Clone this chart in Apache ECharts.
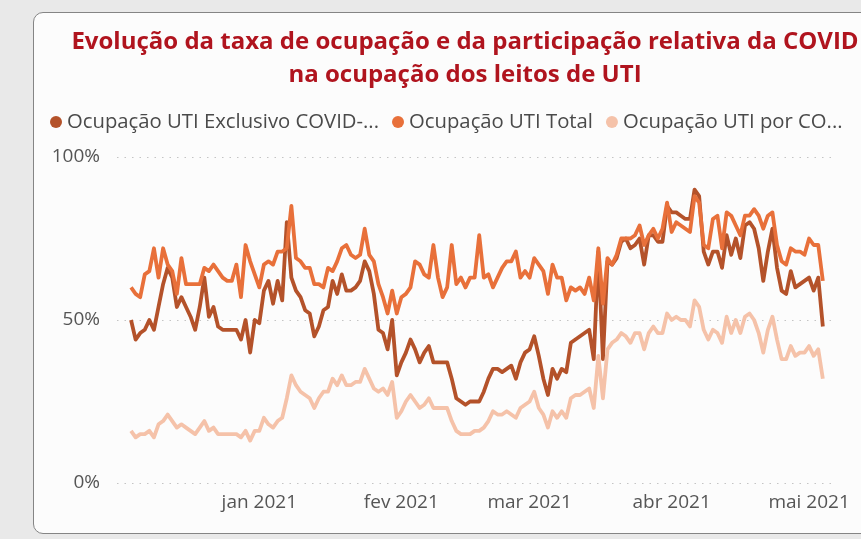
<!DOCTYPE html>
<html>
<head>
<meta charset="utf-8">
<script src="https://cdn.jsdelivr.net/npm/echarts@6/dist/echarts.min.js"></script>
<style>
  html, body { margin: 0; padding: 0; width: 861px; height: 539px; overflow: hidden; }
  body { background: #e9e9e9; position: relative; font-family: 'Open Sans', sans-serif; }
  .card {
    position: absolute; left: 33px; top: 12px; width: 880px; height: 520px;
    background: #fcfcfc; border: 1.5px solid #858585; border-radius: 10px;
  }
  #main { position: absolute; left: 0; top: 0; width: 861px; height: 539px; }
</style>
</head>
<body>
<div class="card"></div>
<div id="main"></div>
<script>
// Ocupação de UTI, um ponto por dia a partir de 04/12/2020
const startDate = '2020-12-04'
const months = ['jan', 'fev', 'mar', 'abr', 'mai', 'jun', 'jul', 'ago', 'set', 'out', 'nov', 'dez']
const yTicks = [0, 50, 100]

const seriesNames = ['Ocupação UTI Exclusivo COVID-19', 'Ocupação UTI Total', 'Ocupação UTI por COVID-19']
const legendLabels = ['Ocupação UTI Exclusivo COVID-...', 'Ocupação UTI Total', 'Ocupação UTI por CO...']

const exclusivo = [
  50, 44, 46, 47, 50, 47, 54, 61, 66, 63, 54, 57, 54, 51, 47, 54, 63, 51, 54, 48,
  47, 47, 47, 47, 44, 50, 40, 50, 49, 59, 62, 55, 62, 56, 80, 63, 59, 57, 53, 52,
  45, 48, 53, 54, 62, 58, 64, 59, 59, 60, 62, 68, 65, 58, 47, 46, 41, 50, 33, 37,
  40, 44, 41, 37, 40, 42, 37, 37, 37, 37, 32, 26, 25, 24, 25, 25, 25, 28, 32, 35,
  35, 34, 35, 36, 32, 37, 40, 41, 45, 39, 32, 27, 35, 32, 35, 34, 43, 44, 45, 46,
  47, 38, 71, 38, 68, 67, 69, 74, 75, 72, 73, 75, 67, 76, 76, 74, 74, 85, 83, 83,
  82, 81, 81, 90, 88, 71, 67, 71, 71, 66, 76, 70, 75, 69, 79, 80, 78, 72, 62, 71,
  78, 66, 59, 58, 65, 60, 61, 62, 63, 59, 63, 48
]
const total = [
  60, 58, 57, 64, 65, 72, 63, 72, 67, 65, 58, 69, 61, 61, 61, 61, 66, 65, 67, 65,
  63, 62, 62, 67, 57, 73, 68, 64, 60, 67, 68, 67, 71, 71, 72, 85, 69, 68, 66, 66,
  61, 61, 60, 66, 65, 68, 72, 73, 70, 69, 70, 78, 70, 68, 61, 57, 52, 59, 52, 57,
  58, 60, 68, 67, 64, 63, 73, 63, 57, 60, 73, 61, 63, 60, 63, 63, 76, 63, 64, 60,
  63, 66, 68, 68, 71, 63, 65, 63, 69, 67, 65, 58, 67, 63, 63, 56, 60, 59, 60, 58,
  63, 56, 72, 55, 69, 67, 70, 75, 75, 75, 76, 79, 73, 76, 78, 75, 78, 86, 77, 80,
  79, 78, 77, 88, 86, 73, 72, 81, 82, 72, 83, 82, 79, 76, 82, 82, 84, 82, 78, 82,
  83, 73, 68, 67, 72, 71, 71, 70, 75, 73, 73, 62
]
const porCovid = [
  16, 14, 15, 15, 16, 14, 18, 19, 21, 19, 17, 18, 17, 16, 15, 17, 19, 16, 17, 15,
  15, 15, 15, 15, 14, 16, 13, 16, 16, 20, 18, 17, 19, 20, 26, 33, 30, 28, 27, 26,
  23, 26, 28, 28, 32, 30, 33, 30, 30, 31, 31, 35, 32, 29, 28, 29, 27, 31, 20, 22,
  25, 27, 25, 23, 24, 26, 23, 23, 23, 23, 19, 16, 15, 15, 15, 16, 16, 17, 19, 22,
  21, 21, 22, 21, 20, 23, 24, 25, 28, 23, 21, 17, 22, 20, 22, 20, 26, 27, 27, 28,
  29, 23, 39, 26, 41, 43, 44, 46, 45, 43, 46, 46, 41, 46, 48, 46, 46, 52, 50, 51,
  50, 50, 48, 56, 54, 47, 44, 47, 46, 43, 51, 46, 50, 46, 51, 52, 50, 46, 40, 47,
  51, 44, 38, 38, 42, 39, 40, 40, 42, 39, 41, 32
]

const colors = ['#b4522a', '#e8703a', '#f5c2a9']

function withDates (values) {
  const t0 = new Date(startDate + 'T00:00:00').getTime()
  return values.map((v, i) => [t0 + i * 86400000, v])
}

let myChart = echarts.init(document.getElementById('main'), null, { renderer: 'canvas' })
let options = {
  animation: false,
  color: colors,
  title: {
    text: 'Evolução da taxa de ocupação e da participação relativa da COVID\nna ocupação dos leitos de UTI',
    left: 460,
    top: 21,
    textAlign: 'center',
    textStyle: {
      fontFamily: 'Open Sans',
      fontWeight: 'bold',
      fontSize: 24,
      lineHeight: 33,
      color: '#b0141e'
    }
  },
  legend: {
    left: 50,
    top: 112,
    width: 811,
    padding: 0,
    icon: 'circle',
    itemWidth: 12,
    itemHeight: 12,
    itemGap: 13,
    data: seriesNames,
    formatter: name => legendLabels[seriesNames.indexOf(name)],
    textStyle: { fontFamily: 'Open Sans', fontSize: 20.3, color: '#4a4a4a' }
  },
  grid: { left: 117, right: 29, top: 157, bottom: 56 },
  xAxis: {
    type: 'time',
    min: new Date('2020-11-30T22:30:00').getTime(),
    max: new Date('2021-05-06T00:00:00').getTime(),
    minInterval: 28 * 86400000,
    maxInterval: 31 * 86400000,
    axisLine: { show: false },
    axisTick: { show: false },
    splitLine: { show: false },
    axisLabel: {
      margin: 10,
      fontFamily: 'Open Sans',
      fontSize: 19,
      color: '#555',
      formatter: v => {
        const d = new Date(v)
        if (d.getMonth() === 11) return ''
        return months[d.getMonth()] + ' ' + d.getFullYear()
      }
    }
  },
  yAxis: {
    type: 'value',
    min: yTicks[0],
    max: yTicks[yTicks.length - 1],
    interval: yTicks[1] - yTicks[0],
    axisLine: { show: false },
    axisTick: { show: false },
    axisLabel: {
      margin: 17,
      fontFamily: 'Open Sans',
      fontSize: 19,
      color: '#555',
      formatter: '{value}%'
    },
    splitLine: { lineStyle: { color: '#c4c4c4', width: 1.2, type: [1.5, 6] } }
  },
  series: [
    { name: seriesNames[0], data: withDates(exclusivo) },
    { name: seriesNames[1], data: withDates(total) },
    { name: seriesNames[2], data: withDates(porCovid) }
  ].map(s => Object.assign(s, {
    type: 'line',
    showSymbol: false,
    lineStyle: { width: 3.8, join: 'round' }
  }))
}
myChart.setOption(options)
</script>
</body>
</html>
